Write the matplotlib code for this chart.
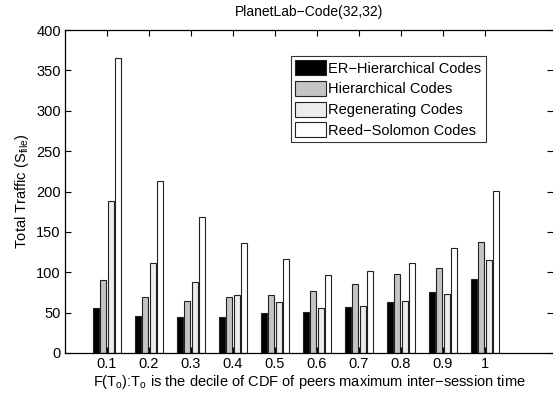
import numpy as np
import matplotlib
matplotlib.use('Agg')
import matplotlib.pyplot as plt

plt.rcParams['font.family'] = ['Liberation Sans', 'DejaVu Sans']
plt.rcParams['mathtext.fontset'] = 'custom'
plt.rcParams['mathtext.rm'] = 'Liberation Sans'
plt.rcParams['mathtext.it'] = 'Liberation Sans'

deciles = ['0.1', '0.2', '0.3', '0.4', '0.5', '0.6', '0.7', '0.8', '0.9', '1']
er_hier = [56, 46, 44, 45, 50, 51, 57, 63, 76, 92]
hier = [91, 69, 65, 69, 72, 77, 85, 98, 105, 137]
regen = [188, 111, 88, 72, 63, 56, 58, 65, 73, 115]
reed_sol = [365, 213, 168, 136, 117, 97, 101, 111, 130, 201]

series = [er_hier, hier, regen, reed_sol]
names = ['ER\u2212Hierarchical Codes', 'Hierarchical Codes',
         'Regenerating Codes', 'Reed\u2212Solomon Codes']
colors = ['#000000', '#c4c4c4', '#ececec', '#ffffff']

fig = plt.figure(figsize=(5.53, 4.0), dpi=100)
ax = fig.add_axes([65/553, 47/400, 488/553, 323/400])

x = np.arange(1, len(deciles) + 1)
offs = [-0.27, -0.09, 0.09, 0.27]
for vals, name, c, o in zip(series, names, colors, offs):
    ax.bar(x + o, vals, width=0.15, color=c, edgecolor='#222222',
           linewidth=0.8, label=name)

ax.set_xlim(0, 488/42)
ax.set_ylim(0, 400)
ax.set_xticks(x)
ax.set_xticklabels(deciles)
ax.set_yticks(range(0, 401, 50))
ax.tick_params(direction='in', top=True, right=True, length=4, labelsize=10.5, pad=3)
for s in ax.spines.values():
    s.set_linewidth(0.9)
ax.spines['right'].set_visible(False)

ax.set_title('PlanetLab\u2212Code(32,32)', fontsize=10, pad=10)
ax.set_ylabel(r'Total Traffic (S$_\mathrm{file}$)', fontsize=10.5, labelpad=4)
ax.set_xlabel(r'F(T$_\mathrm{o}$):T$_\mathrm{o}$ is the decile of CDF of peers maximum inter$-$session time',
              fontsize=10.5, labelpad=1)

leg = ax.legend(loc='upper left', bbox_to_anchor=((291-65)/488, (353-56)/323),
                fontsize=10.5, frameon=True, fancybox=False, edgecolor='black',
                borderpad=0.3, labelspacing=0.36, handlelength=2.1, handleheight=1.2,
                handletextpad=0.15, borderaxespad=0)
leg.get_frame().set_linewidth(0.8)

fig.savefig('out.png', dpi=100)
